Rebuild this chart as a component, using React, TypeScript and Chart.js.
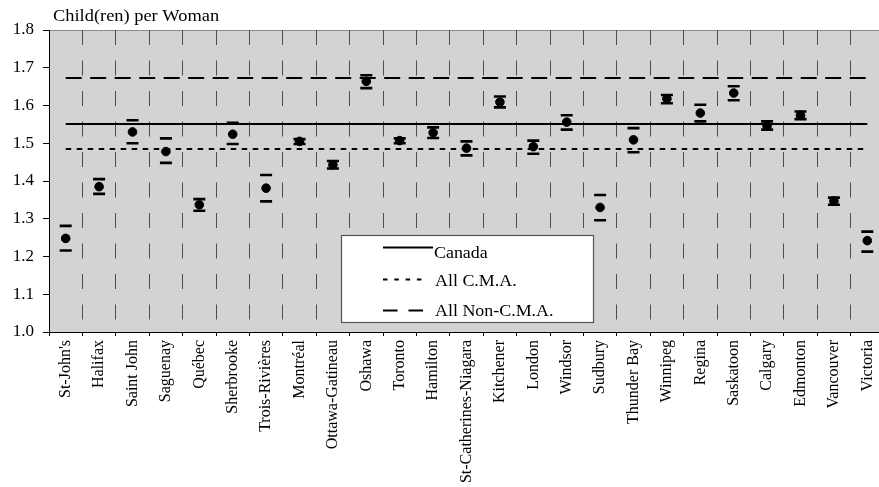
import React, { useEffect, useRef } from "react";
import { Chart, registerables } from "chart.js";

Chart.register(...registerables);

// Census metropolitan areas, west to east order as published
const CITIES = [
  "St-John's",
  "Halifax",
  "Saint John",
  "Saguenay",
  "Québec",
  "Sherbrooke",
  "Trois-Rivières",
  "Montréal",
  "Ottawa-Gatineau",
  "Oshawa",
  "Toronto",
  "Hamilton",
  "St-Catherines-Niagara",
  "Kitchener",
  "London",
  "Windsor",
  "Sudbury",
  "Thunder Bay",
  "Winnipeg",
  "Regina",
  "Saskatoon",
  "Calgary",
  "Edmonton",
  "Vancouver",
  "Victoria",
];

// Total fertility rate (children per woman) and its confidence bounds
const TFR = [
  1.248, 1.385, 1.53, 1.478, 1.337, 1.524, 1.381, 1.505, 1.443, 1.664, 1.507,
  1.528, 1.487, 1.609, 1.491, 1.556, 1.33, 1.509, 1.618, 1.58, 1.633, 1.546,
  1.574, 1.347, 1.242,
];
const TFR_UPPER = [
  1.281, 1.405, 1.561, 1.513, 1.352, 1.554, 1.416, 1.511, 1.453, 1.68, 1.513,
  1.542, 1.505, 1.624, 1.507, 1.574, 1.363, 1.54, 1.628, 1.602, 1.651, 1.558,
  1.584, 1.356, 1.266,
];
const TFR_LOWER = [
  1.216, 1.366, 1.5, 1.448, 1.321, 1.498, 1.346, 1.498, 1.433, 1.646, 1.5,
  1.514, 1.468, 1.595, 1.472, 1.536, 1.296, 1.476, 1.606, 1.558, 1.614, 1.536,
  1.564, 1.337, 1.213,
];

// Reference levels
const CANADA = 1.551;
const ALL_CMA = 1.485;
const ALL_NON_CMA = 1.673;

const Y_MIN = 1.0;
const Y_MAX = 1.8;
const Y_STEP = 0.1;
const Y_TITLE = "Child(ren) per Woman";
const LEGEND_LABELS = ["Canada", "All C.M.A.", "All Non-C.M.A."];

const SERIF = '"Liberation Serif", "Times New Roman", Times, serif';
const DOTTED = [5.5, 5.5];
const DASHED = [16, 8.5];

const plotBackground = {
  id: "plotBackground",
  beforeDraw(chart: any) {
    const { ctx, chartArea } = chart;
    ctx.save();
    ctx.fillStyle = "#D3D3D6";
    ctx.fillRect(
      chartArea.left,
      chartArea.top,
      chartArea.right - chartArea.left,
      chartArea.bottom - chartArea.top
    );
    ctx.strokeStyle = "#8a8a8a";
    ctx.lineWidth = 1;
    ctx.beginPath();
    ctx.moveTo(chartArea.left, Math.round(chartArea.top) + 0.5);
    ctx.lineTo(chartArea.right, Math.round(chartArea.top) + 0.5);
    ctx.stroke();
    ctx.restore();
  },
};

function stretchedText(ctx: any, text: string, x: number, y: number, sx: number) {
  ctx.save();
  ctx.translate(x, y);
  ctx.scale(sx, 1);
  ctx.fillText(text, 0, 0);
  ctx.restore();
}

const overlay = {
  id: "overlay",
  afterDraw(chart: any) {
    const { ctx } = chart;
    ctx.save();
    ctx.fillStyle = "#000";
    ctx.textBaseline = "alphabetic";
    ctx.textAlign = "left";
    ctx.font = `16px ${SERIF}`;
    stretchedText(ctx, Y_TITLE, 53, 20.5, 1.15);

    // legend box
    const bx = 341.5;
    const by = 235.5;
    const bw = 252;
    const bh = 87;
    ctx.fillStyle = "#fff";
    ctx.fillRect(bx, by, bw, bh);
    ctx.strokeStyle = "#555";
    ctx.lineWidth = 1.2;
    ctx.strokeRect(bx, by, bw, bh);

    const rows = [
      { line: 247.5, base: 257.5, x2: 433, dash: [] as number[] },
      { line: 279.5, base: 285.5, x2: 427, dash: [4.5, 6.8] },
      { line: 310.5, base: 315.5, x2: 423, dash: [14.5, 11] },
    ];
    rows.forEach((r, i) => {
      ctx.strokeStyle = "#000";
      ctx.lineWidth = 2;
      ctx.setLineDash(r.dash);
      ctx.beginPath();
      ctx.moveTo(383, r.line);
      ctx.lineTo(r.x2, r.line);
      ctx.stroke();
      ctx.setLineDash([]);
      ctx.fillStyle = "#000";
      stretchedText(ctx, LEGEND_LABELS[i], i === 0 ? 434 : 435, r.base, 1.12);
    });
    ctx.restore();
  },
};

export default function App() {
  const canvasRef = useRef<HTMLCanvasElement | null>(null);

  useEffect(() => {
    const canvas = canvasRef.current;
    if (!canvas) return;

    const refLine = (value: number, dash: number[]) => ({
      data: CITIES.map(() => value),
      borderColor: "#000",
      backgroundColor: "#000",
      borderWidth: 2,
      borderDash: dash,
      pointRadius: 0,
      fill: false,
      tension: 0,
    });

    const cap = (values: number[]) => ({
      data: values,
      showLine: false,
      pointStyle: "line",
      pointRadius: 6,
      pointBorderWidth: 2.6,
      pointBorderColor: "#000",
      pointBackgroundColor: "#000",
      borderColor: "#000",
    });

    const chart = new Chart(canvas, {
      type: "line",
      data: {
        labels: CITIES,
        datasets: [
          {
            data: TFR,
            showLine: false,
            pointStyle: "circle",
            pointRadius: 4.3,
            pointBorderWidth: 1,
            pointBackgroundColor: "#000",
            pointBorderColor: "#000",
            borderColor: "#000",
          },
          cap(TFR_UPPER),
          cap(TFR_LOWER),
          refLine(CANADA, []),
          refLine(ALL_CMA, DOTTED),
          refLine(ALL_NON_CMA, DASHED),
        ] as any,
      },
      options: {
        animation: false,
        responsive: false,
        events: [],
        layout: { padding: { top: 30, right: 16, left: 0, bottom: 0 } },
        plugins: {
          legend: { display: false },
          tooltip: { enabled: false },
          title: { display: false },
        },
        scales: {
          x: {
            type: "category",
            offset: true,
            grid: {
              offset: true,
              drawOnChartArea: true,
              drawTicks: true,
              color: (c: any) => (c.index === 0 ? "rgba(0,0,0,0)" : "#4d4d4d"),
              lineWidth: 1,
              tickLength: 4,
              tickColor: "#000",
              tickWidth: 1,
            },
            border: { display: true, color: "#000", width: 1, dash: [15, 15.5] },
            ticks: {
              autoSkip: false,
              maxRotation: 90,
              minRotation: 90,
              padding: 4,
              color: "#000",
              font: { family: SERIF, size: 16 },
            },
            afterFit: (s: any) => {
              s.height = 155;
            },
          },
          y: {
            min: Y_MIN,
            max: Y_MAX,
            ticks: {
              stepSize: Y_STEP,
              callback: (v: any) => Number(v).toFixed(1),
              color: "#000",
              padding: 9,
              font: { family: SERIF, size: 17 },
            },
            grid: {
              drawOnChartArea: false,
              drawTicks: true,
              tickLength: 6,
              color: "#000",
            },
            border: { display: true, color: "#000", width: 1 },
            afterFit: (s: any) => {
              s.width = 49;
            },
          },
        },
      } as any,
      plugins: [plotBackground, overlay],
    });

    return () => chart.destroy();
  }, []);

  return (
    <div
      style={{
        position: "fixed",
        left: 0,
        top: 0,
        width: 879,
        height: 487,
        overflow: "hidden",
        background: "#fff",
      }}
    >
      <canvas ref={canvasRef} width={900} height={487} style={{ display: "block" }} />
    </div>
  );
}
